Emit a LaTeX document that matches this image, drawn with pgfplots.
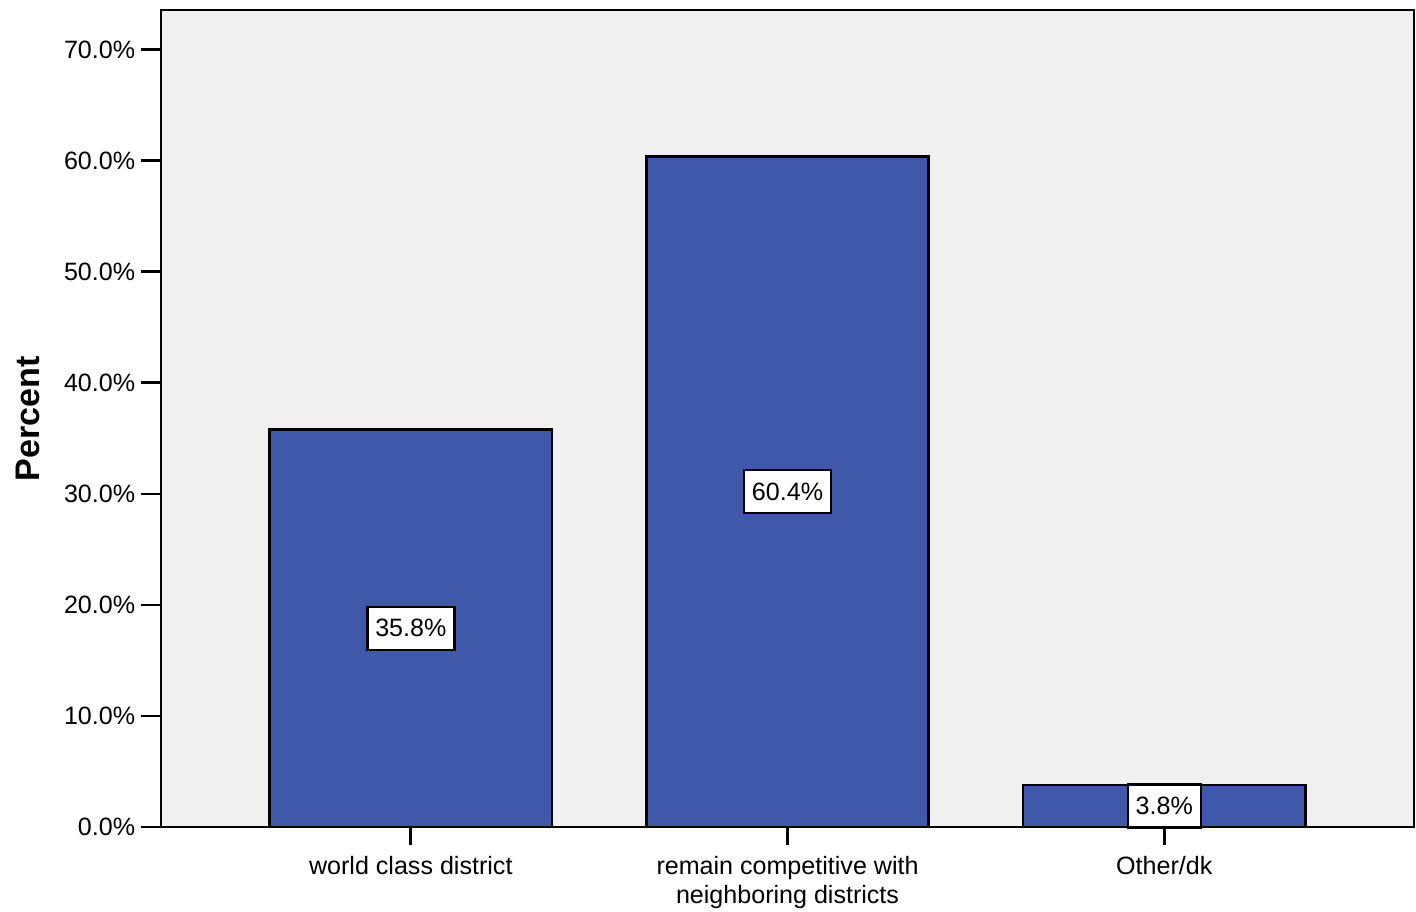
\documentclass[border=0pt]{standalone}
\usepackage{pgfplots}
\pgfplotsset{compat=1.18}
\usepackage{fontspec}
\setmainfont{Liberation Sans}
\definecolor{barblue}{HTML}{3F58AA}
\definecolor{bggray}{HTML}{F0F0F0}
\begin{document}
\begin{tikzpicture}
\begin{axis}[
  scale only axis,
  width=569.5pt, height=371.4pt,
  xmin=-0.663, xmax=2.663,
  ymin=0, ymax=73.6,
  axis background/.style={fill=bggray},
  axis line style={black, line width=0.7pt},
  ybar, bar width=0.75,
  xtick={0,1,2},
  xticklabels={world class district, {remain competitive with\\neighboring districts}, Other/dk},
  ytick={0,10,...,70},
  tick align=outside,
  xtick pos=bottom, ytick pos=left,
  major tick style={black, line width=1.3pt},
  xtick style={/pgfplots/major tick length=8.2pt},
  ytick style={/pgfplots/major tick length=9.1pt},
  /pgf/number format/assume math mode=true,
  yticklabel={\pgfmathprintnumber[fixed,fixed zerofill,precision=1]{\tick}\%},
  yticklabel style={font=\fontsize{11.4}{13.2}\selectfont, anchor=east, inner sep=0pt, xshift=-7.3pt},
  xticklabel style={font=\fontsize{11.4}{13.2}\selectfont, align=center, anchor=north, inner sep=0pt, yshift=-9pt},
  ylabel={Percent},
  every axis y label/.style={at={(axis description cs:0,0.5)}, xshift=-60.5pt, rotate=90, anchor=center, font=\fontsize{15.5}{18}\bfseries\selectfont},
  nodes near coords={\pgfmathprintnumber[fixed,fixed zerofill,precision=1]{\pgfplotspointmeta}\%},
  visualization depends on={y \as \rawy},
  every node near coord/.append style={anchor=center, fill=white, draw=black, line width=1.1pt,
     inner xsep=3.6pt, minimum height=19.5pt, font=\fontsize{11.4}{13.2}\selectfont,
     shift={(axis direction cs:0,-\rawy/2)}},
]
\addplot[fill=barblue, draw=black, line width=1.2pt] coordinates {(0,35.8) (1,60.4) (2,3.8)};
\end{axis}
\pgfresetboundingbox
\path[use as bounding box] ([xshift=-73.2pt,yshift=-38.6pt]current axis.south west) rectangle ([xshift=0.9pt,yshift=4.5pt]current axis.north east);
\end{tikzpicture}
\end{document}
